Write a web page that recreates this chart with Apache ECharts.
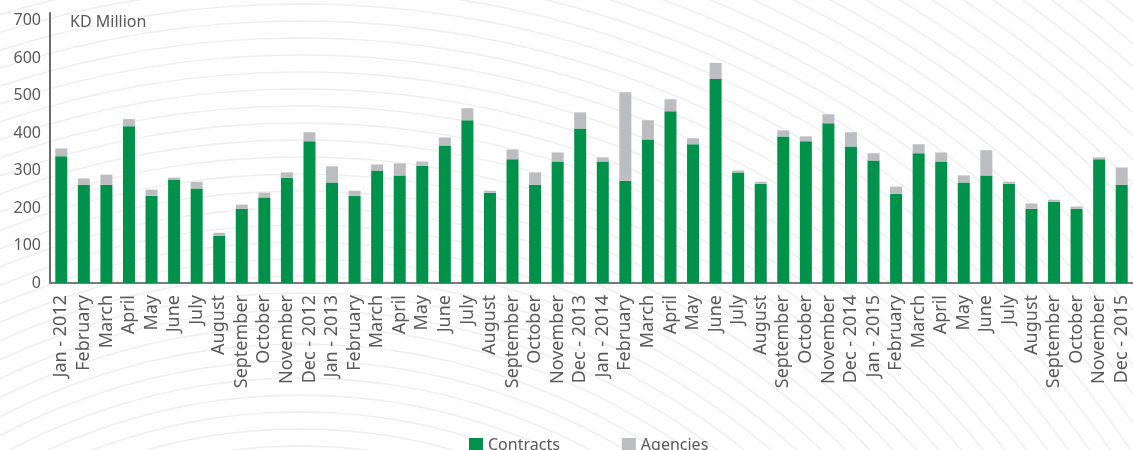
<!DOCTYPE html>
<html>
<head>
<meta charset="utf-8">
<style>
  html, body { margin: 0; padding: 0; background: #ffffff; }
  #chart { width: 1133px; height: 450px; }
</style>
<script src="https://cdn.jsdelivr.net/npm/echarts@6/dist/echarts.min.js"></script>
</head>
<body>
<div id="chart"></div>
<script>
// Monthly values, KD million
const months = [
  'Jan - 2012', 'February', 'March', 'April', 'May', 'June', 'July', 'August', 'September', 'October', 'November', 'Dec - 2012',
  'Jan - 2013', 'February', 'March', 'April', 'May', 'June', 'July', 'August', 'September', 'October', 'November', 'Dec - 2013',
  'Jan - 2014', 'February', 'March', 'April', 'May', 'June', 'July', 'August', 'September', 'October', 'November', 'Dec - 2014',
  'Jan - 2015', 'February', 'March', 'April', 'May', 'June', 'July', 'August', 'September', 'October', 'November', 'Dec - 2015'
];

const contracts = [
  338, 262, 262, 418, 233, 276, 252, 126, 198, 228, 281, 378,
  268, 233, 300, 287, 313, 367, 434, 241, 330, 262, 324, 412,
  324, 273, 383, 458, 370, 544, 295, 265, 391, 378, 426, 364,
  327, 238, 346, 324, 268, 287, 265, 198, 217, 198, 330, 262
];

const agencies = [
  21, 17, 27, 19, 16, 5, 18, 8, 11, 13, 14, 24,
  43, 13, 16, 32, 11, 21, 32, 5, 26, 33, 24, 43,
  11, 236, 51, 32, 16, 43, 5, 5, 16, 13, 24, 38,
  19, 19, 24, 24, 19, 67, 5, 14, 5, 6, 5, 46
];

const yTicks = [0, 100, 200, 300, 400, 500, 600, 700];

const textColor = '#595959';
const fontFamily = '"Noto Sans", "Open Sans", sans-serif';

// Decorative concentric arcs in the background
const arcs = [];
for (let r = 520; r <= 1340; r += 17) {
  arcs.push({
    type: 'circle',
    silent: true,
    z: -10,
    shape: { cx: 300, cy: 1000, r: r },
    style: { fill: 'none', stroke: '#efefef', lineWidth: 1.6 }
  });
}

const chart = echarts.init(document.getElementById('chart'), null, { renderer: 'canvas' });

chart.setOption({
  animation: false,
  backgroundColor: '#ffffff',
  textStyle: { fontFamily: fontFamily, color: textColor },
  graphic: arcs.concat([{
    type: 'text',
    left: 70,
    top: 14,
    silent: true,
    style: { text: 'KD Million', fill: textColor, font: '16px ' + fontFamily }
  }]),
  legend: {
    top: 432,
    left: 464,
    itemWidth: 14,
    itemHeight: 14,
    itemGap: 62,
    icon: 'rect',
    textStyle: { fontSize: 16, color: textColor, fontFamily: fontFamily },
    data: ['Contracts', 'Agencies']
  },
  grid: {
    left: 50,
    top: 13,
    width: 1088,
    bottom: 167,
    containLabel: false
  },
  xAxis: {
    type: 'category',
    data: months,
    axisLine: { lineStyle: { color: '#7a7a7a', width: 2 } },
    axisTick: { show: false },
    axisLabel: {
      rotate: 90,
      interval: 0,
      margin: 12,
      fontSize: 18,
      color: textColor,
      fontFamily: fontFamily
    }
  },
  yAxis: {
    type: 'value',
    min: 0,
    max: 720,
    interval: 100,
    axisLine: { show: true, lineStyle: { color: '#6a6a6a', width: 2 } },
    axisTick: { show: false },
    splitLine: { show: false },
    axisLabel: {
      margin: 9,
      fontSize: 16,
      color: textColor,
      fontFamily: fontFamily,
      formatter: function (v) { return yTicks.indexOf(v) >= 0 ? String(v) : ''; }
    }
  },
  series: [
    {
      name: 'Contracts',
      type: 'bar',
      stack: 'total',
      barWidth: 12,
      data: contracts,
      itemStyle: { color: '#00924a' }
    },
    {
      name: 'Agencies',
      type: 'bar',
      stack: 'total',
      barWidth: 12,
      data: agencies,
      itemStyle: { color: '#bcbdc0' }
    }
  ]
});
</script>
</body>
</html>
